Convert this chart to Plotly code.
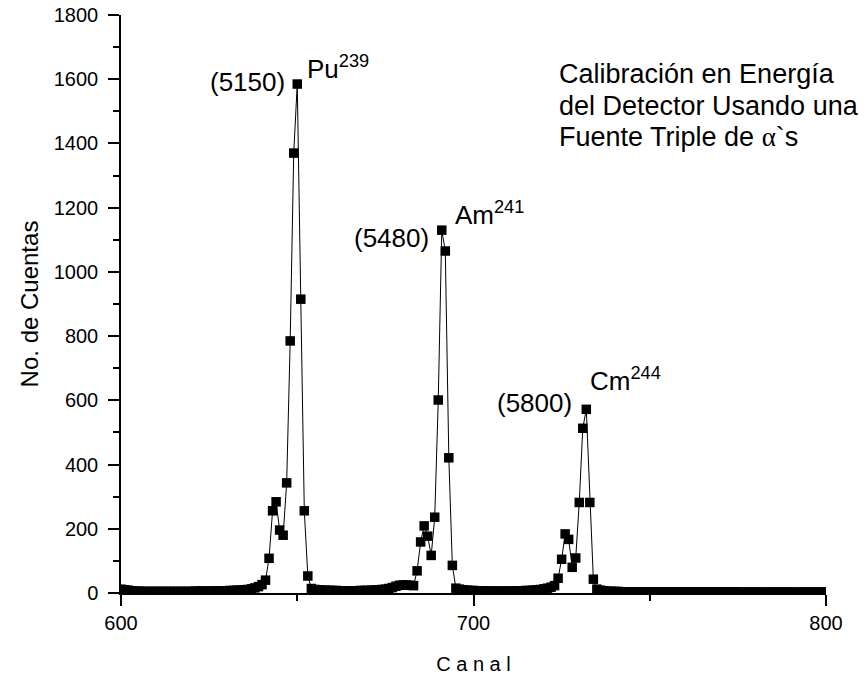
import plotly.graph_objects as go

# ---------------- data ----------------
channels = [
    600, 601, 602, 603, 604, 605, 606, 607, 608, 609,
    610, 611, 612, 613, 614, 615, 616, 617, 618, 619,
    620, 621, 622, 623, 624, 625, 626, 627, 628, 629,
    630, 631, 632, 633, 634, 635, 636, 637, 638, 639,
    640, 641, 642, 643, 644, 645, 646, 647, 648, 649,
    650, 651, 652, 653, 654, 655, 656, 657, 658, 659,
    660, 661, 662, 663, 664, 665, 666, 667, 668, 669,
    670, 671, 672, 673, 674, 675, 676, 677, 678, 679,
    680, 681, 682, 683, 684, 685, 686, 687, 688, 689,
    690, 691, 692, 693, 694, 695, 696, 697, 698, 699,
    700, 701, 702, 703, 704, 705, 706, 707, 708, 709,
    710, 711, 712, 713, 714, 715, 716, 717, 718, 719,
    720, 721, 722, 723, 724, 725, 726, 727, 728, 729,
    730, 731, 732, 733, 734, 735, 736, 737, 738, 739,
    740, 741, 742, 743, 744, 745, 746, 747, 748, 749,
    750, 751, 752, 753, 754, 755, 756, 757, 758, 759,
    760, 761, 762, 763, 764, 765, 766, 767, 768, 769,
    770, 771, 772, 773, 774, 775, 776, 777, 778, 779,
    780, 781, 782, 783, 784, 785, 786, 787, 788, 789,
    790, 791, 792, 793, 794, 795, 796, 797, 798, 799,
    800,
]

counts = [
    12, 10, 9, 7, 6, 6, 5, 5, 5, 5,
    5, 5, 5, 5, 5, 5, 5, 5, 5, 5,
    5, 6, 6, 6, 6, 6, 6, 7, 7, 7,
    7, 8, 8, 9, 9, 10, 11, 13, 16, 20,
    26, 40, 108, 256, 284, 196, 180, 343, 785, 1370,
    1585, 915, 256, 53, 14, 11, 10, 9, 9, 8,
    8, 8, 7, 7, 7, 7, 7, 7, 8, 8,
    8, 9, 9, 10, 11, 12, 14, 17, 21, 24,
    25, 25, 24, 23, 69, 159, 209, 177, 117, 236,
    601, 1130, 1065, 421, 86, 15, 12, 10, 9, 8,
    8, 7, 7, 7, 6, 6, 6, 6, 6, 6,
    6, 6, 7, 7, 7, 8, 8, 9, 10, 11,
    13, 15, 18, 23, 46, 105, 184, 167, 80, 109,
    282, 513, 572, 282, 43, 12, 9, 7, 6, 5,
    5, 5, 4, 4, 4, 4, 4, 4, 4, 4,
    4, 4, 4, 4, 4, 4, 4, 4, 4, 4,
    4, 4, 4, 4, 4, 4, 4, 4, 4, 4,
    4, 4, 4, 4, 4, 3, 3, 3, 3, 3,
    3, 3, 3, 3, 3, 3, 3, 3, 3, 3,
    3, 3, 3, 3, 3, 3, 3, 3, 3, 3,
    3,
]

peak_windows = [(640, 656), (683, 696), (723, 736)]
peak_energies = ["(5150)", "(5480)", "(5800)"]
peak_isotopes = ["Pu<sup>239</sup>", "Am<sup>241</sup>", "Cm<sup>244</sup>"]

x_ticks = [600, 700, 800]
y_ticks = [0, 200, 400, 600, 800, 1000, 1200, 1400, 1600, 1800]

title_lines = ["Calibración en Energía", "del Detector Usando una",
               "Fuente Triple de <span style=\"font-family:'Liberation Serif'\">α</span>`s"]

FONT = "Liberation Sans, Arial, sans-serif"

fig = go.Figure()
fig.add_trace(go.Scatter(
    x=channels, y=counts, mode="lines+markers",
    line=dict(color="black", width=1),
    marker=dict(symbol="square", size=9.5, color="black", line=dict(width=0)),
    cliponaxis=True, showlegend=False,
))

# peak labels anchored at the maximum point of each window
energy_shift = [(-10, 2), (-11, -8), (-12, 6)]
iso_shift = [(8, 17), (11, 17), (2, 30)]
for (lo, hi), en, iso, es, isf in zip(peak_windows, peak_energies, peak_isotopes,
                                      energy_shift, iso_shift):
    pts = [(c, v) for c, v in zip(channels, counts) if lo <= c <= hi]
    pc, pv = max(pts, key=lambda p: p[1])
    fig.add_annotation(x=pc, y=pv, text=en, showarrow=False, xanchor="right",
                       yanchor="middle", xshift=es[0], yshift=es[1],
                       font=dict(family=FONT, size=26, color="black"))
    fig.add_annotation(x=pc, y=pv, text=iso, showarrow=False, xanchor="left",
                       yanchor="middle", xshift=isf[0], yshift=isf[1],
                       font=dict(family=FONT, size=26, color="black"))

for line, py in zip(title_lines, [0.898, 0.843, 0.789]):
    fig.add_annotation(xref="paper", yref="paper", x=0.619, y=py,
                       text=line, showarrow=False,
                       xanchor="left", yanchor="middle", align="left",
                       font=dict(family=FONT, size=27, color="black"))

axis_common = dict(
    showline=True, linecolor="black", linewidth=1.5, mirror=False,
    showgrid=False, zeroline=False, ticks="outside", ticklen=11,
    tickwidth=1.5, tickcolor="black", automargin=False,
    tickfont=dict(family=FONT, size=20, color="black"),
)

fig.update_xaxes(range=[600, 800], tickvals=x_ticks,
                 minor=dict(dtick=50, ticks="outside", ticklen=6,
                            tickwidth=1.5, tickcolor="black"),
                 title=dict(text="C a n a l", standoff=24,
                            font=dict(family=FONT, size=20, color="black")),
                 **axis_common)
fig.update_yaxes(range=[0, 1800], tickvals=y_ticks, ticklabelstandoff=6,
                 minor=dict(dtick=100, ticks="outside", ticklen=6,
                            tickwidth=1.5, tickcolor="black"),
                 title=dict(text="No. de Cuentas", standoff=8,
                            font=dict(family=FONT, size=24, color="black")),
                 **axis_common)

fig.update_layout(
    width=867, height=678,
    margin=dict(l=121, r=41, t=15, b=85),
    paper_bgcolor="white", plot_bgcolor="white",
    font=dict(family=FONT, color="black"),
)

fig.write_html("out.html", config={"displayModeBar": False},
               post_script="document.body.style.margin='0px';")
